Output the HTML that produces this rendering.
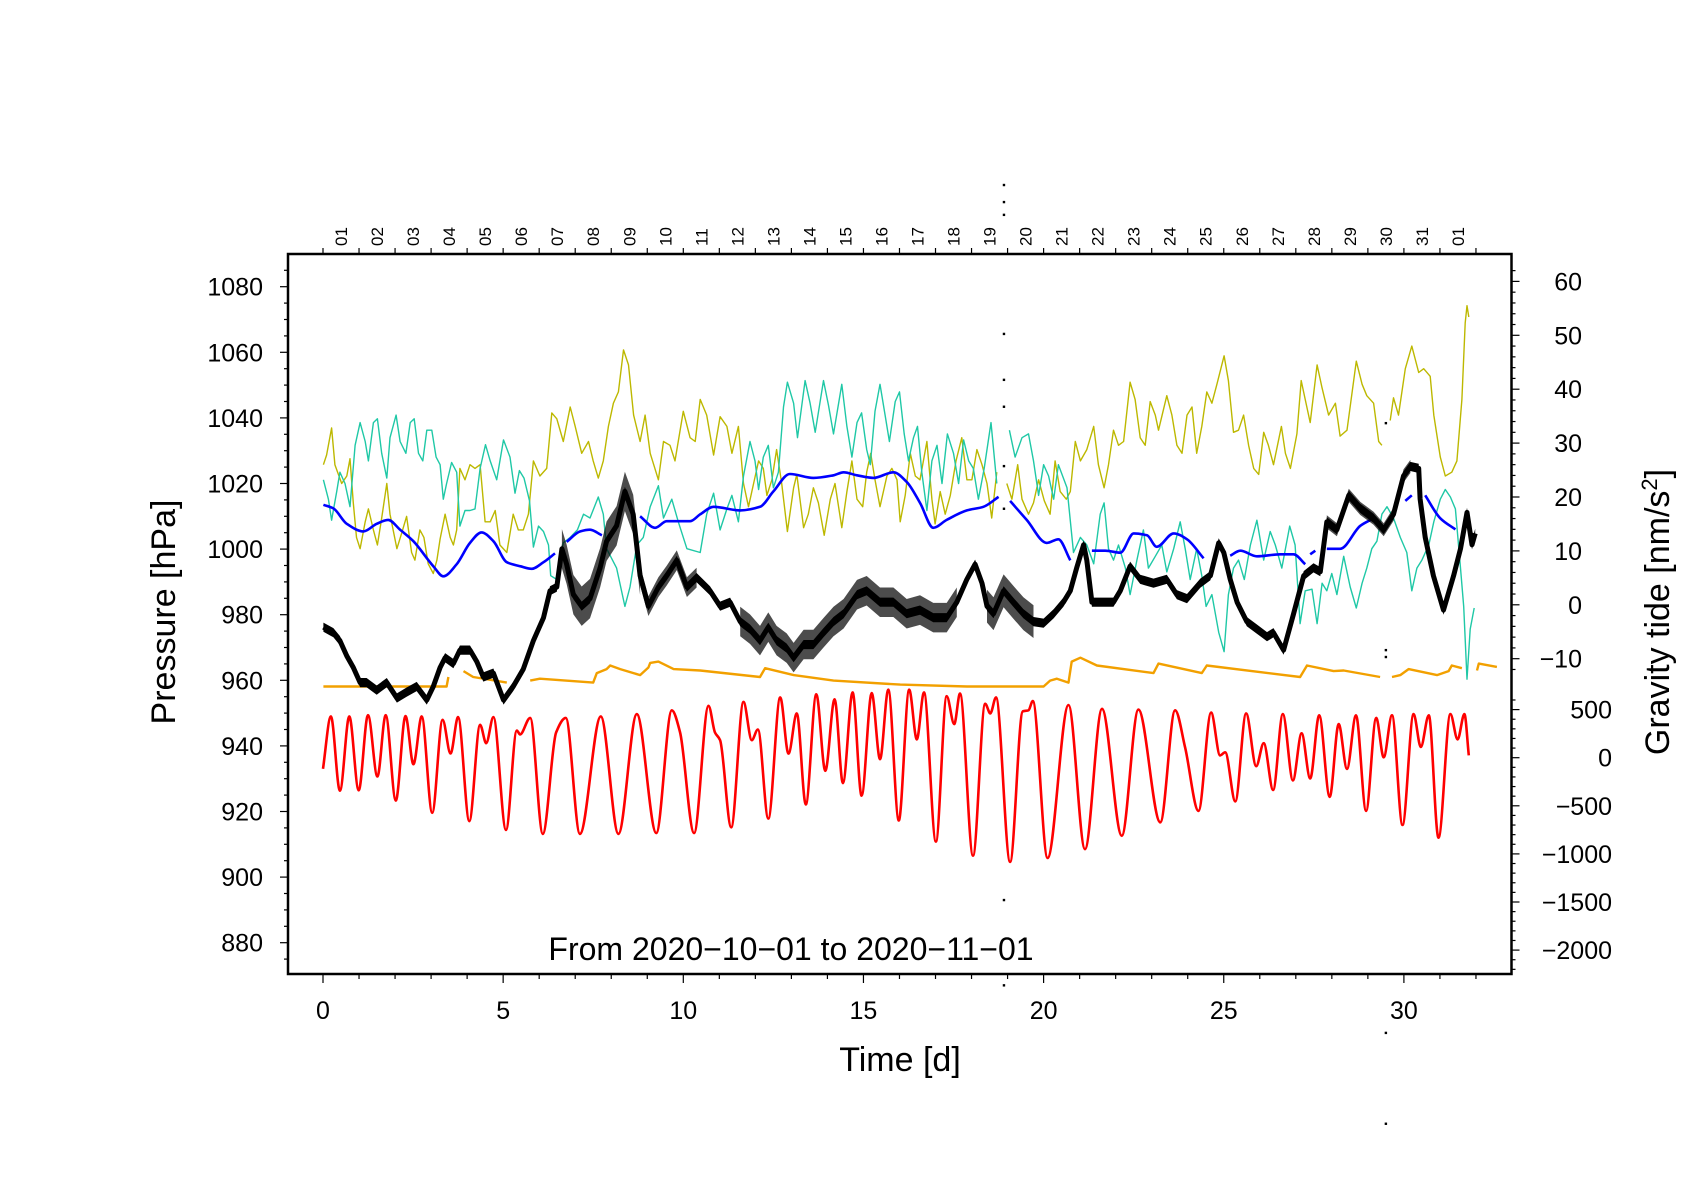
<!DOCTYPE html>
<html><head><meta charset="utf-8"><style>html,body{margin:0;padding:0;background:#fff}svg{display:block;font-family:"Liberation Sans",sans-serif}</style></head>
<body>
<svg id="chart" xmlns="http://www.w3.org/2000/svg" width="1684" height="1190" viewBox="0 0 1684 1190">
<rect x="0" y="0" width="1684" height="1190" fill="#fff"/>
<g id="series"></g>
<g id="axes"></g>
<text x="791" y="960" font-size="32" text-anchor="middle">From 2020−10−01 to 2020−11−01</text>
<text x="900" y="1071" font-size="34" text-anchor="middle">Time [d]</text>
<text transform="translate(175,612) rotate(-90)" font-size="34" text-anchor="middle">Pressure [hPa]</text>
<text transform="translate(1669,612) rotate(-90)" font-size="34" text-anchor="middle">Gravity tide [nm/s<tspan baseline-shift="super" font-size="22">2</tspan>]</text>
</svg>
<script>
// ---------- data ----------
const redDays=[0,0.22,0.47,0.73,0.99,1.25,1.51,1.74,2.02,2.29,2.51,2.74,3.03,3.32,3.54,3.75,4.06,4.36,4.53,4.73,5.08,5.38,5.47,5.75,6.1,6.47,6.74,7.13,7.71,8.2,8.71,9.25,9.68,9.91,10.3,10.70,10.88,11.02,11.33,11.67,11.90,12.07,12.36,12.69,12.92,13.15,13.40,13.69,13.94,14.20,14.43,14.70,14.95,15.23,15.46,15.69,15.98,16.27,16.48,16.68,17.01,17.31,17.52,17.68,18.04,18.38,18.52,18.68,19.07,19.42,19.58,19.70,20.11,20.69,21.15,21.62,22.17,22.63,23.24,23.65,23.93,24.30,24.65,24.90,25.04,25.32,25.62,25.90,26.11,26.37,26.64,26.92,27.16,27.40,27.65,27.94,28.19,28.42,28.67,28.95,29.23,29.44,29.67,29.96,30.27,30.47,30.69,30.96,31.29,31.49,31.68,31.80];
const redVals=[-115,429,-343,429,-339,442,-195,442,-446,433,-68,429,-573,394,44,422,-660,342,151,422,-752,283,242,414,-792,262,414,-792,429,-792,453,-784,493,262,-784,540,262,182,-724,580,182,293,-633,627,43,461,-486,659,-136,607,-264,679,-395,671,-16,707,-653,707,190,679,-872,639,349,667,-1019,560,461,627,-1083,481,493,588,-1043,548,-951,508,-812,500,-672,493,103,-553,469,24,56,-454,461,-88,151,-336,453,-236,254,-216,441,-407,349,-116,441,-553,414,4,441,-700,453,111,441,-832,453,190,453,24];

const blackDays=[0.01,0.29,0.47,0.66,0.84,1.03,1.21,1.49,1.77,2.05,2.32,2.60,2.88,3.06,3.25,3.39,3.62,3.80,4.08,4.27,4.45,4.73,5.01,5.28,5.56,5.84,6.12,6.30,6.49,6.63,6.76,6.95,7.18,7.41,7.69,7.87,8.15,8.38,8.61,8.80,9.03,9.31,9.54,9.82,10.1,10.37,10.74,11.02,11.30,11.58,11.85,12.13,12.36,12.59,12.87,13.06,13.34,13.61,13.89,14.17,14.45,14.82,15.09,15.46,15.83,16.20,16.57,16.94,17.31,17.59,17.87,18.10,18.29,18.43,18.61,18.89,19.16,19.44,19.72,20.0,20.28,20.55,20.74,20.92,21.11,21.20,21.34,21.57,21.94,22.13,22.40,22.68,23.05,23.42,23.70,23.98,24.35,24.63,24.86,25.0,25.18,25.37,25.64,25.92,26.20,26.38,26.66,26.94,27.22,27.49,27.68,27.86,28.14,28.47,28.79,29.16,29.44,29.71,29.99,30.18,30.41,30.45,30.59,30.82,31.10,31.38,31.57,31.75,31.89,31.98];
const blackVals=[976.2,974.5,972.1,967.4,963.9,959.3,959.3,957.0,959.3,954.6,956.4,958.1,954.0,958.1,963.9,966.9,965.1,969.2,969.2,965.7,961.0,962.2,954.0,958.1,963.4,972.1,979.1,987.3,988.4,1000.1,995.4,986.1,982.6,984.9,994.3,1002.4,1007.1,1017.6,1010.6,991.9,982.6,988.4,991.9,996.6,988.4,991.3,987.3,982.6,983.8,977.9,975.6,972.1,976.2,972.1,969.8,966.9,970.9,970.9,974.5,977.9,980.3,986.1,987.3,983.8,983.8,980.3,981.4,979.1,979.1,983.8,990.8,995.4,989.6,982.6,980.3,987.3,983.8,980.3,977.9,977.4,980.3,983.8,987.3,994.3,1001.3,996.6,983.8,983.8,983.8,987.3,994.8,990.8,989.6,990.8,986.1,984.9,989.6,991.9,1001.9,998.9,990.8,983.8,977.9,975.6,973.3,974.5,969.2,980.3,991.9,994.3,993.1,1008.3,1005.9,1016.4,1012.4,1009.4,1005.9,1010.6,1022.3,1025.2,1024.6,1015.3,1003.6,991.9,981.4,991.9,1000.1,1011.2,1001.3,1004.8];
// noisy sections of the black series (start day, end day, half-width hPa)
const noiseStart=[0,6.5,8.8,11.4,18.4,27.8];
const noiseEnd=[32,8.8,10.5,17.6,19.9,30.3];
const noiseAmp=[1.4,6,3,4.5,5,2];
// stray outlier samples
const outlierDays=[18.9,18.9,18.9,18.9,18.9,18.9,18.9,18.9,18.9,18.9,29.5,29.5,29.5,29.5,29.5];
const outlierVals=[1111,1105.8,1101.9,1065.6,1051.6,1043.4,1025.3,1012.3,893.0,867,1038.4,969.2,967.1,852.5,824.8];

const blueDays=[0.01,0.29,0.66,1.12,1.49,1.81,2.14,2.51,3.06,3.34,3.71,4.08,4.40,4.73,5.10,5.47,5.79,6.12,6.44,null,6.76,7.14,7.41,7.74,null,8.80,9.22,9.54,10.19,10.47,10.84,11.58,12.13,12.50,12.96,13.61,14.17,14.45,14.82,15.28,15.83,16.20,16.57,16.94,17.31,17.87,18.33,18.75,null,19.07,19.53,20.09,20.41,20.74,null,21.34,21.71,22.13,22.50,22.87,23.14,23.61,23.98,24.44,null,25.18,25.46,25.92,26.57,26.94,27.26,null,27.40,27.54,null,27.86,28.23,28.79,29.16,null,30.04,30.22,null,30.59,31.01,31.43];
const blueVals=[1013.5,1012.4,1007.7,1005.4,1007.7,1008.9,1005.9,1002.4,994.8,991.7,995.4,1001.9,1005.1,1002.4,996.0,994.8,994.0,996.0,998.7,null,1002.2,1005.4,1005.9,1004.2,null,1010.0,1006.5,1008.5,1008.5,1010.6,1012.9,1011.8,1012.9,1017.6,1022.9,1021.7,1022.5,1023.4,1022.5,1021.7,1023.4,1020.5,1014.1,1006.5,1008.9,1011.8,1012.9,1015.9,null,1014.7,1008.9,1001.9,1003.0,996.6,null,999.5,999.5,998.9,1004.8,1004.2,1000.7,1004.8,1003.0,997.2,null,998.0,999.5,997.8,998.4,998.4,995.4,null,998.4,999.5,null,1000.1,1000.1,1007.1,1009.4,null,1014.7,1016.4,null,1016.4,1009.4,1006.0];

const orangeDays=[0.01,3.43,3.48,null,3.90,4.17,5.10,null,5.75,6.02,7.50,7.60,7.87,7.97,8.25,8.80,9.03,9.08,9.31,9.73,10.47,12.13,12.27,13.06,14.17,16.02,17.87,20.0,20.18,20.37,20.69,20.78,21.02,21.48,23.05,23.19,24.39,24.53,27.12,27.31,28.05,28.33,29.34,null,29.67,29.90,30.13,30.92,31.24,31.33,31.61,null,32.03,32.08,32.58];
const orangeVals=[958.1,958.1,961.0,null,962.8,961.0,959.3,null,959.9,960.5,959.3,962.2,963.4,964.5,963.4,961.6,963.9,965.3,965.7,963.4,963.0,961.0,963.7,961.6,959.9,958.7,958.1,958.1,959.9,960.5,959.3,965.7,966.9,964.5,962.2,965.1,962.2,964.5,961.0,964.5,962.8,963.0,961.0,null,961.0,961.6,963.4,961.6,962.8,964.5,963.7,null,963.0,965.1,964.1];

const cyanDays=[0.01,0.15,0.24,0.38,0.47,0.61,0.75,0.89,1.03,1.17,1.26,1.40,1.51,1.63,1.77,1.86,2.03,2.14,2.30,2.42,2.53,2.65,2.77,2.88,3.02,3.14,3.25,3.34,3.43,3.57,3.71,3.80,3.94,4.08,4.22,4.36,4.51,4.64,4.82,5.01,5.19,5.33,5.45,5.58,5.73,5.84,5.98,6.12,6.26,6.32,6.49,6.67,6.86,7.06,7.23,7.41,7.64,7.78,7.87,8.15,8.38,8.52,8.71,8.89,9.08,9.31,9.45,9.68,9.86,10.10,10.47,10.65,10.84,11.02,11.21,11.35,11.53,11.67,11.85,11.99,12.09,12.22,12.36,12.50,12.64,12.78,12.89,13.06,13.17,13.38,13.52,13.66,13.89,14.03,14.17,14.40,14.54,14.68,14.82,14.95,15.09,15.19,15.32,15.46,15.60,15.72,15.88,16.0,16.13,16.25,16.39,16.50,16.62,16.76,16.90,17.04,17.18,17.33,17.50,17.64,17.78,17.92,18.05,18.19,18.35,18.54,18.70,null,19.05,19.21,19.40,19.58,19.72,19.86,20.0,20.14,20.28,20.41,20.65,20.83,21.02,21.20,21.39,21.57,21.68,21.80,21.94,22.08,22.27,22.40,22.59,22.77,22.91,23.10,23.28,23.42,23.61,23.79,23.93,24.07,24.25,24.39,24.51,24.67,24.86,25.01,25.13,25.27,25.41,25.57,25.74,25.92,26.11,26.29,26.43,26.61,26.83,26.98,27.12,27.26,27.45,27.59,27.73,27.86,28.0,28.14,28.33,28.51,28.68,28.84,28.97,29.11,29.25,29.39,29.53,29.71,29.90,30.08,30.22,30.36,30.50,30.69,30.83,31.01,31.15,31.29,31.43,31.57,31.66,31.75,31.84,31.95];
const cyanVals=[23.2,19.6,15.7,21.0,24.6,22.5,18.2,29.6,33.8,30.3,26.7,33.8,34.5,28.1,23.5,31.0,35.2,30.3,28.1,33.8,34.5,28.1,26.7,32.4,32.4,27.4,26.0,19.6,22.5,26.4,24.6,14.6,17.5,17.5,17.8,25.3,29.7,26.7,23.2,30.6,27.4,20.7,24.9,23.5,19.3,10.7,14.6,13.6,11.1,5.4,4.7,11.5,12.5,13.9,16.8,16.1,20.0,16.8,10.4,6.8,-0.3,3.3,11.1,12.5,18.2,22.1,16.1,19.6,15.4,10.4,9.7,16.8,20.7,13.9,17.8,20.3,15.4,23.9,30.3,26.7,21.4,27.4,29.6,21.7,24.6,36.7,41.3,37.4,31.0,41.6,37.4,32.0,41.6,37.0,31.7,40.9,33.1,27.4,33.8,35.6,28.8,26.0,35.9,40.9,35.2,30.3,37.7,39.5,31.7,26.7,31.0,33.1,24.6,17.5,26.7,29.6,22.5,31.7,28.1,22.5,30.6,26.7,25.3,19.6,25.3,33.8,22.5,null,32.4,27.4,31.0,31.7,26.7,20.3,26.0,23.9,19.6,26.0,21.7,9.7,12.5,11.1,7.6,16.8,18.9,10.4,8.3,11.1,6.8,1.9,8.3,13.9,6.8,9.0,11.1,6.1,10.4,15.4,10.4,4.7,10.4,5.4,-0.3,1.9,-5.1,-8.7,1.9,6.8,8.3,4.7,11.1,15.7,8.3,13.6,11.1,6.8,14.6,11.1,-3.5,2.6,2.9,-3.5,4.0,2.6,5.8,1.9,9.0,3.3,-0.6,4.0,6.8,10.4,11.8,16.8,18.2,16.1,12.5,9.7,2.6,6.8,8.3,11.1,15.4,19.6,21.4,20.0,17.8,6.8,-0.3,-13.8,-4.5,-0.6];

const oliveDays=[0.01,0.10,0.24,0.33,0.52,0.66,0.75,0.84,0.93,1.03,1.17,1.26,1.40,1.51,1.63,1.77,1.86,2.05,2.18,2.32,2.46,2.55,2.69,2.80,2.92,3.06,3.16,3.25,3.39,3.53,3.62,3.71,3.80,3.94,4.08,4.22,4.36,4.50,4.64,4.78,4.91,5.10,5.28,5.42,5.56,5.70,5.84,6.02,6.21,6.35,6.49,6.67,6.86,7.0,7.18,7.37,7.50,7.64,7.78,7.92,8.06,8.20,8.34,8.48,8.62,8.80,8.94,9.08,9.31,9.45,9.63,9.77,10.0,10.19,10.33,10.47,10.65,10.84,11.02,11.21,11.35,11.53,11.67,11.81,11.95,12.09,12.22,12.32,12.46,12.59,12.73,12.89,13.06,13.15,13.34,13.47,13.61,13.75,13.91,14.08,14.21,14.40,14.54,14.68,14.82,14.98,15.09,15.20,15.32,15.46,15.65,15.79,15.93,16.02,16.16,16.30,16.44,16.57,16.76,16.90,16.99,17.13,17.27,17.41,17.57,17.73,17.87,18.01,18.15,18.29,18.43,18.56,18.70,null,18.98,19.12,19.28,19.40,19.58,19.72,19.86,20.02,20.18,20.32,20.46,20.63,20.74,20.88,21.02,21.20,21.39,21.52,21.68,21.80,21.94,22.08,22.22,22.40,22.54,22.68,22.82,22.96,23.10,23.19,23.42,23.56,23.70,23.84,23.98,24.12,24.25,24.39,24.53,24.67,24.81,25.01,25.13,25.27,25.41,25.55,25.69,25.83,25.97,26.11,26.24,26.38,26.60,26.71,26.85,27.03,27.15,27.26,27.40,27.59,27.73,27.91,28.10,28.23,28.42,28.68,28.84,28.97,29.16,29.30,29.39,null,29.62,29.71,29.85,30.04,30.22,30.41,30.55,30.73,30.83,31.01,31.15,31.33,31.47,31.61,31.70,31.75,31.80];
const oliveVals=[26.0,27.8,32.8,26.0,22.5,23.9,27.1,18.9,12.5,10.4,15.4,17.8,13.9,11.1,16.1,22.5,16.8,10.4,13.2,16.4,9.7,8.3,13.9,12.5,7.6,5.8,8.3,12.2,16.8,12.5,11.1,13.9,25.3,23.2,26.0,25.3,26.0,15.4,15.4,17.5,11.1,9.7,16.8,13.9,13.9,16.8,26.7,23.9,25.3,35.6,34.5,30.3,36.7,33.1,28.1,30.3,26.7,23.5,26.7,33.1,37.4,39.5,47.3,44.5,35.2,30.3,35.2,28.1,23.2,30.3,29.6,26.7,35.9,31.0,30.3,38.1,35.2,27.8,34.9,33.1,28.1,33.1,22.5,18.2,22.5,26.7,25.3,20.3,23.2,28.8,22.5,13.6,21.7,24.2,14.3,16.8,21.7,18.9,12.9,19.6,22.5,14.3,21.0,26.7,19.6,18.2,24.6,28.1,23.2,18.2,23.9,25.3,23.2,15.4,20.3,28.1,23.9,23.2,30.3,19.6,15.0,21.0,16.8,20.3,26.7,31.0,23.2,23.2,28.8,26.0,22.5,16.1,24.6,null,22.5,19.6,26.0,19.6,16.8,18.9,23.2,19.3,16.8,26.7,21.0,19.6,21.0,30.3,26.7,28.8,33.1,26.0,21.7,26.0,32.4,29.6,30.3,41.3,38.1,31.0,29.6,37.7,35.2,32.4,38.8,35.2,29.6,28.1,35.2,36.7,28.1,33.1,39.5,37.4,40.9,46.2,41.6,32.0,32.4,35.2,29.6,25.3,24.2,32.0,29.6,26.0,33.1,28.1,25.3,31.7,41.6,38.1,33.8,44.5,40.2,35.2,37.4,31.3,32.4,45.2,40.9,38.8,37.4,30.3,29.6,null,34.2,38.4,35.2,43.8,48.0,43.1,43.8,42.4,35.2,27.4,23.9,24.6,26.7,38.1,52.3,55.5,53.4];

const leftTicks=[880,900,920,940,960,980,1000,1020,1040,1060,1080];
const rightUpperTicks=[60,50,40,30,20,10,0,-10];
const rightLowerTicks=[500,0,-500,-1000,-1500,-2000];
const xTicks=[0,5,10,15,20,25,30];
const dayLabels=["01","02","03","04","05","06","07","08","09","10","11","12","13","14","15","16","17","18","19","20","21","22","23","24","25","26","27","28","29","30","31","01"];

// ---------- scales ----------
const L=288,R=1511.5,T=254,B=974;
const xS=d=>323+d*36.03;
const yP=p=>286.7+(1080-p)*3.28;
const yG=g=>281.4+(60-g)*5.39;
const yT=v=>757.7-v*0.0962;

const NS="http://www.w3.org/2000/svg";
const series=document.getElementById('series');
const axes=document.getElementById('axes');
function mk(tag,parent){const e=document.createElementNS(NS,tag);parent.appendChild(e);return e;}

function segments(days,vals,ys){
  const segs=[];let cur=[];
  for(let i=0;i<days.length;i++){
    if(days[i]===null||vals[i]===null){if(cur.length)segs.push(cur);cur=[];continue;}
    cur.push([xS(days[i]),ys(vals[i])]);
  }
  if(cur.length)segs.push(cur);return segs;
}
function linePath(pts){return pts.map((p,i)=>(i?'L':'M')+p[0].toFixed(1)+','+p[1].toFixed(1)).join('');}
function smoothPath(pts){
  const n=pts.length;if(n<3)return linePath(pts);
  const m=new Array(n).fill(0);
  for(let i=1;i<n-1;i++){
    const d0=(pts[i][1]-pts[i-1][1])/(pts[i][0]-pts[i-1][0]);
    const d1=(pts[i+1][1]-pts[i][1])/(pts[i+1][0]-pts[i][0]);
    m[i]=(d0*d1<=0)?0:2/(1/d0+1/d1);
  }
  m[0]=(pts[1][1]-pts[0][1])/(pts[1][0]-pts[0][0]);
  m[n-1]=(pts[n-1][1]-pts[n-2][1])/(pts[n-1][0]-pts[n-2][0]);
  let d='M'+pts[0][0].toFixed(1)+','+pts[0][1].toFixed(1);
  for(let i=0;i<n-1;i++){
    const h=(pts[i+1][0]-pts[i][0])/3;
    d+='C'+(pts[i][0]+h).toFixed(1)+','+(pts[i][1]+m[i]*h).toFixed(1)+' '+(pts[i+1][0]-h).toFixed(1)+','+(pts[i+1][1]-m[i+1]*h).toFixed(1)+' '+pts[i+1][0].toFixed(1)+','+pts[i+1][1].toFixed(1);
  }
  return d;
}
function drawSeries(days,vals,ys,color,width,smooth,name,dash){
  const g=mk('g',series);
  
  
  segments(days,vals,ys).forEach(s=>{
    const p=mk('path',g);
    p.setAttribute('d',smooth?smoothPath(s):linePath(s));
    p.setAttribute('fill','none');p.setAttribute('stroke',color);
    p.setAttribute('stroke-width',width);p.setAttribute('stroke-linejoin','round');
    if(dash)p.setAttribute('stroke-dasharray',dash);
    
    
  });
}

drawSeries(oliveDays,oliveVals,yG,'#bdb800',1.4,false,'olive-series');
drawSeries(cyanDays,cyanVals,yG,'#1fc8a6',1.4,false,'cyan-series');
drawSeries(blueDays,blueVals,yP,'#0000ff',2.6,true,'blue-series');
drawSeries(orangeDays,orangeVals,yP,'#f2a000',2.4,false,'orange-series');
drawSeries(redDays,redVals,yT,'#ff0000',2.6,true,'red-tide-series');

// black noisy pressure band
const bg=mk('g',series);


for(let k=0;k<noiseStart.length;k++){
  const up=[],dn=[];
  for(let i=0;i<blackDays.length;i++){
    if(blackDays[i]>=noiseStart[k]&&blackDays[i]<=noiseEnd[k]){
      up.push([xS(blackDays[i]),yP(blackVals[i]+noiseAmp[k])]);
      dn.unshift([xS(blackDays[i]),yP(blackVals[i]-noiseAmp[k])]);
    }
  }
  if(up.length>1){
    const poly=mk('path',bg);
    poly.setAttribute('d',linePath(up.concat(dn))+'Z');
    poly.setAttribute('fill','#000');poly.setAttribute('fill-opacity',k===0?'1':'0.7');
    
    
  }
}
const bl=mk('path',bg);
bl.setAttribute('d',linePath(segments(blackDays,blackVals,yP)[0]));
bl.setAttribute('fill','none');bl.setAttribute('stroke','#000');bl.setAttribute('stroke-width','5');bl.setAttribute('stroke-linejoin','round');


for(let i=0;i<outlierDays.length;i++){
  const c=mk('rect',bg);
  c.setAttribute('x',xS(outlierDays[i])-1.2);c.setAttribute('y',yP(outlierVals[i])-1.2);
  c.setAttribute('width',2.4);c.setAttribute('height',2.4);c.setAttribute('fill','#000');
  
  
}

// ---------- axes ----------
function line(x1,y1,x2,y2,w,name){const l=mk('line',axes);l.setAttribute('x1',x1);l.setAttribute('y1',y1);l.setAttribute('x2',x2);l.setAttribute('y2',y2);l.setAttribute('stroke','#000');l.setAttribute('stroke-width',w);
  
  return l;}
function text(x,y,s,size,anchor,name){const t=mk('text',axes);t.setAttribute('x',x);t.setAttribute('y',y);t.setAttribute('font-size',size);t.setAttribute('text-anchor',anchor);t.textContent=s;
  
  return t;}
const fr=mk('rect',axes);
fr.setAttribute('x',L);fr.setAttribute('y',T);fr.setAttribute('width',R-L);fr.setAttribute('height',B-T);
fr.setAttribute('fill','none');fr.setAttribute('stroke','#000');fr.setAttribute('stroke-width','2.5');


for(let p=875;p<=1090;p+=5){const y=yP(p);if(y<T||y>B)continue;line(L,y,L-(p%20===0?8:4),y,1.2,'left-tick');}
leftTicks.forEach(p=>text(263,yP(p)+9,String(p),25,'end','left-tick-label'));
for(let g=62;g>=-12;g-=2){const y=yG(g);line(R,y,R+(g%10===0?8:4),y,1.2,'right-upper-tick');}
rightUpperTicks.forEach(g=>text(1582,yG(g)+9,String(g).replace('-','−'),25,'end','right-upper-tick-label'));
for(let v=600;v>=-2200;v-=100){const y=yT(v);if(y>B)continue;line(R,y,R+(v%500===0?8:4),y,1.2,'right-lower-tick');}
rightLowerTicks.forEach(v=>text(1612,yT(v)+9,String(v).replace('-','−'),25,'end','right-lower-tick-label'));
for(let d=0;d<=33;d++){const x=xS(d);if(x>R)continue;line(x,B,x,B+(d%5===0?9:5),1.2,'x-tick');}
xTicks.forEach(d=>text(xS(d),1019,String(d),25,'middle','x-tick-label'));
for(let d=0;d<=32;d++){line(xS(d),T,xS(d),T-6,1.2,'top-day-tick');}
dayLabels.forEach((s,i)=>{const x=xS(i+0.5)+6;const t=text(0,0,s,17,'start','top-day-label');t.setAttribute('transform','translate('+x.toFixed(1)+',246) rotate(-90)');});
</script>
</body></html>
